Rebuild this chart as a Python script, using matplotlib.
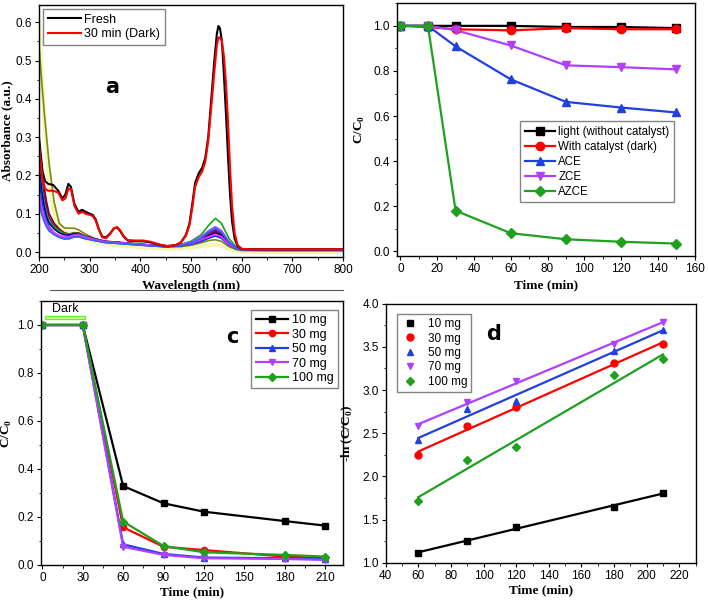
import matplotlib
matplotlib.use("Agg")
import matplotlib.pyplot as plt
import numpy as np
from matplotlib.ticker import MultipleLocator, FormatStrFormatter
from matplotlib.patches import Rectangle
from matplotlib.lines import Line2D

plt.rcParams.update({"font.family": "Liberation Sans", "font.size": 8.5,
                     "mathtext.fontset": "custom",
                     "mathtext.rm": "Liberation Serif:bold",
                     "mathtext.bf": "Liberation Serif:bold",
                     "axes.linewidth": 1.0,
                     "xtick.direction": "out", "ytick.direction": "out",
                     "xtick.major.size": 3, "ytick.major.size": 3,
                     "xtick.minor.size": 1.8, "ytick.minor.size": 1.8,
                     "xtick.minor.visible": True, "ytick.minor.visible": True})
LAB = dict(family="Liberation Serif", weight="bold", size=9.5)

# ---- panel a: UV-vis spectra ----
wl_big = [200, 203, 207, 212, 218, 228, 238, 246, 252, 258, 263, 270, 278, 285, 292, 300,
          306, 312, 318, 325, 332, 340, 348, 354, 360, 367, 375, 390, 405, 420, 440, 455,
          470, 480, 490, 497, 503, 508, 515, 522, 528, 534, 540, 546, 551, 554, 557, 561,
          565, 569, 573, 577, 581, 586, 592, 600, 620, 700, 800]
fresh = [0.30, 0.26, 0.21, 0.185, 0.178, 0.175, 0.16, 0.14, 0.15, 0.178, 0.17, 0.125, 0.105,
         0.11, 0.105, 0.10, 0.097, 0.085, 0.06, 0.04, 0.038, 0.048, 0.062, 0.064, 0.055,
         0.04, 0.03, 0.028, 0.028, 0.025, 0.018, 0.015, 0.018, 0.025, 0.045, 0.075, 0.13,
         0.18, 0.205, 0.22, 0.245, 0.30, 0.40, 0.50, 0.57, 0.59, 0.585, 0.55, 0.46, 0.36,
         0.25, 0.15, 0.08, 0.035, 0.015, 0.008, 0.007, 0.007, 0.007]
dark30 = [0.28, 0.24, 0.19, 0.165, 0.16, 0.16, 0.155, 0.135, 0.14, 0.165, 0.165, 0.12, 0.10,
          0.105, 0.10, 0.097, 0.094, 0.082, 0.058, 0.038, 0.036, 0.046, 0.062, 0.065, 0.057,
          0.042, 0.031, 0.03, 0.03, 0.027, 0.019, 0.015, 0.018, 0.025, 0.043, 0.07, 0.12,
          0.17, 0.195, 0.21, 0.235, 0.29, 0.38, 0.47, 0.54, 0.56, 0.56, 0.55, 0.51, 0.44,
          0.34, 0.22, 0.12, 0.05, 0.018, 0.008, 0.007, 0.007, 0.007]

wl_small = [200, 205, 210, 215, 220, 230, 240, 250, 260, 270, 278, 290, 310, 330, 360, 400,
            450, 480, 500, 520, 535, 548, 560, 575, 590, 600, 650, 700, 800]
yellow = [0.60, 0.48, 0.36, 0.26, 0.18, 0.10, 0.07, 0.055, 0.05, 0.05, 0.045, 0.035, 0.027,
          0.02, 0.017, 0.013, 0.009, 0.01, 0.012, 0.015, 0.018, 0.02, 0.016, 0.008, 0.003,
          0.002, 0.0, 0.0, 0.0]
olive = [0.54, 0.45, 0.37, 0.30, 0.23, 0.13, 0.075, 0.063, 0.062, 0.062, 0.058, 0.048, 0.035,
         0.027, 0.024, 0.019, 0.013, 0.014, 0.018, 0.024, 0.03, 0.032, 0.028, 0.014, 0.006,
         0.004, 0.003, 0.003, 0.003]
maroon = [0.29, 0.22, 0.17, 0.13, 0.10, 0.075, 0.06, 0.05, 0.047, 0.05, 0.05, 0.042, 0.035,
          0.028, 0.025, 0.02, 0.015, 0.017, 0.022, 0.032, 0.045, 0.054, 0.046, 0.022, 0.01,
          0.008, 0.006, 0.006, 0.006]
purple = [0.27, 0.20, 0.15, 0.115, 0.09, 0.068, 0.055, 0.048, 0.046, 0.05, 0.048, 0.041, 0.034,
          0.028, 0.025, 0.02, 0.015, 0.017, 0.023, 0.035, 0.05, 0.058, 0.05, 0.024, 0.01,
          0.008, 0.006, 0.006, 0.006]
green = [0.23, 0.17, 0.13, 0.10, 0.08, 0.065, 0.055, 0.048, 0.046, 0.05, 0.048, 0.04, 0.033,
         0.027, 0.024, 0.02, 0.016, 0.02, 0.028, 0.045, 0.07, 0.088, 0.075, 0.035, 0.012,
         0.008, 0.006, 0.006, 0.006]
navy = [0.22, 0.16, 0.12, 0.09, 0.075, 0.06, 0.05, 0.045, 0.044, 0.048, 0.046, 0.04, 0.033,
        0.027, 0.024, 0.02, 0.015, 0.017, 0.022, 0.03, 0.042, 0.05, 0.043, 0.02, 0.009,
        0.007, 0.006, 0.006, 0.006]
blue = [0.20, 0.14, 0.10, 0.08, 0.065, 0.05, 0.04, 0.035, 0.035, 0.04, 0.04, 0.036, 0.03,
        0.025, 0.022, 0.018, 0.014, 0.016, 0.02, 0.028, 0.036, 0.042, 0.036, 0.018, 0.008,
        0.006, 0.005, 0.005, 0.005]
violet = [0.16, 0.12, 0.095, 0.075, 0.062, 0.05, 0.043, 0.04, 0.04, 0.045, 0.045, 0.04, 0.033,
          0.027, 0.024, 0.02, 0.016, 0.019, 0.026, 0.04, 0.056, 0.066, 0.056, 0.027, 0.01,
          0.007, 0.006, 0.006, 0.006]
magenta = [0.15, 0.11, 0.085, 0.07, 0.06, 0.048, 0.042, 0.038, 0.038, 0.043, 0.042, 0.037,
           0.031, 0.026, 0.023, 0.019, 0.015, 0.017, 0.022, 0.032, 0.04, 0.046, 0.04, 0.02,
           0.009, 0.007, 0.006, 0.006, 0.006]
royal = [0.13, 0.10, 0.08, 0.065, 0.055, 0.045, 0.038, 0.034, 0.035, 0.04, 0.04, 0.035, 0.03,
         0.025, 0.022, 0.018, 0.014, 0.017, 0.023, 0.036, 0.052, 0.062, 0.052, 0.025, 0.009,
         0.007, 0.006, 0.006, 0.006]

# ---- panel b: catalyst comparison ----
t_b = [0, 15, 30, 60, 90, 120, 150]
light_noc = [1.0, 1.0, 1.0, 1.0, 0.995, 0.995, 0.99]
cat_dark = [1.0, 0.995, 0.985, 0.98, 0.99, 0.985, 0.985]
ace = [1.0, 1.0, 0.909, 0.763, 0.663, 0.638, 0.616]
zce = [1.0, 1.0, 0.981, 0.913, 0.825, 0.817, 0.807]
azce = [1.0, 1.0, 0.181, 0.081, 0.054, 0.043, 0.035]

# ---- panel c: catalyst dose ----
t_c = [0, 30, 60, 90, 120, 180, 210]
mg10 = [1.0, 1.0, 0.329, 0.257, 0.222, 0.183, 0.164]
mg30 = [1.0, 1.0, 0.157, 0.076, 0.062, 0.035, 0.028]
mg50 = [1.0, 1.0, 0.086, 0.046, 0.031, 0.028, 0.025]
mg70 = [1.0, 1.0, 0.076, 0.042, 0.028, 0.025, 0.021]
mg100 = [1.0, 1.0, 0.181, 0.079, 0.053, 0.042, 0.035]

# ---- panel d: kinetics -ln(C/C0) ----
t_d = [60, 90, 120, 180, 210]
k10 = [1.116, 1.25, 1.417, 1.645, 1.81]
k30 = [2.25, 2.58, 2.80, 3.317, 3.53]
k50 = [2.42, 2.78, 2.87, 3.45, 3.70]
k70 = [2.58, 2.86, 3.10, 3.53, 3.79]
k100 = [1.71, 2.19, 2.34, 3.17, 3.355]

BLK, RED, BLU, VIO, GRN = "#000000", "#ff0000", "#2040e0", "#b040ff", "#1fa01f"

fig = plt.figure(figsize=(7.08, 6.02), dpi=100)
axa = fig.add_axes([0.0551, 0.5731, 0.4294, 0.4186])
axb = fig.add_axes([0.5603, 0.5748, 0.4209, 0.4197])
axc = fig.add_axes([0.0575, 0.0615, 0.4265, 0.4385])
axd = fig.add_axes([0.5448, 0.0653, 0.4378, 0.4302])

for ax in (axa, axb, axc, axd):
    ax.tick_params(which="both", top=False, right=False, labelsize=8.5, pad=2)

# a
axa.plot(wl_small, yellow, color="#f4f4a0", lw=3.0, alpha=0.8)
for ys, c in [(olive, "#7a8a10"), (maroon, "#800000"), (purple, "#800080"), (green, "#11aa11"),
              (navy, "#000090"), (blue, "#0030ff"), (violet, "#9a50ff"), (magenta, "#ff30ff"),
              (royal, "#3060ff")]:
    axa.plot(wl_small, ys, color=c, lw=1.2)
axa.plot(wl_big, fresh, color=BLK, lw=1.5, label="Fresh")
axa.plot(wl_big, dark30, color=RED, lw=1.5, label="30 min (Dark)")
axa.set_xlim(200, 800); axa.set_ylim(-0.013, 0.645)
axa.xaxis.set_major_locator(MultipleLocator(100)); axa.xaxis.set_minor_locator(MultipleLocator(50))
axa.yaxis.set_major_locator(MultipleLocator(0.1)); axa.yaxis.set_minor_locator(MultipleLocator(0.05))
axa.yaxis.set_major_formatter(FormatStrFormatter("%.1f"))
axa.set_xlabel("Wavelength (nm)", **LAB, labelpad=3)
axa.set_ylabel("Absorbance (a.u.)", **LAB)
axa.yaxis.set_label_coords(-0.085, 0.5)
axa.legend(loc="upper left", bbox_to_anchor=(0.005, 0.995), fontsize=9, handlelength=2.6,
           fancybox=False, edgecolor="#666666", borderpad=0.4, labelspacing=0.2,
           handletextpad=0.3, borderaxespad=0.2)
axa.text(345, 0.43, "a", fontsize=15, fontweight="bold", family="DejaVu Sans",
         ha="center", va="center")

# b
for ys, c, m, lab in [(light_noc, BLK, "s", "light (without catalyst)"),
                      (cat_dark, RED, "o", "With catalyst (dark)"),
                      (ace, BLU, "^", "ACE"), (zce, VIO, "v", "ZCE"),
                      (azce, GRN, "D", "AZCE")]:
    axb.plot(t_b, ys, color=c, marker=m, ms=6 if m != "D" else 5, lw=1.6, label=lab)
axb.set_xlim(-2, 160); axb.set_ylim(-0.02, 1.1)
axb.xaxis.set_major_locator(MultipleLocator(20)); axb.xaxis.set_minor_locator(MultipleLocator(10))
axb.yaxis.set_major_locator(MultipleLocator(0.2)); axb.yaxis.set_minor_locator(MultipleLocator(0.1))
axb.yaxis.set_major_formatter(FormatStrFormatter("%.1f"))
axb.set_xlabel("Time (min)", **LAB, labelpad=3)
axb.set_ylabel(r"C/C$_\mathbf{0}$", **LAB)
axb.yaxis.set_label_coords(-0.1, 0.5)
axb.legend(loc="lower right", bbox_to_anchor=(0.95, 0.19), fontsize=8.3, handlelength=2.6,
           fancybox=False, edgecolor="#666666", borderpad=0.4, labelspacing=0.25,
           handletextpad=0.3)

# c
for ys, c, m, lab in [(mg10, BLK, "s", "10 mg"), (mg30, RED, "o", "30 mg"),
                      (mg50, BLU, "^", "50 mg"), (mg70, VIO, "v", "70 mg"),
                      (mg100, GRN, "D", "100 mg")]:
    axc.plot(t_c, ys, color=c, marker=m, ms=4.5 if m != "D" else 4, lw=1.6, label=lab)
axc.set_xlim(-1.2, 223); axc.set_ylim(0, 1.1)
axc.set_xticks([0, 30, 60, 90, 120, 150, 180, 210])
axc.xaxis.set_minor_locator(MultipleLocator(15))
axc.yaxis.set_major_locator(MultipleLocator(0.2)); axc.yaxis.set_minor_locator(MultipleLocator(0.1))
axc.yaxis.set_major_formatter(FormatStrFormatter("%.1f"))
axc.set_xlabel("Time (min)", **LAB, labelpad=2)
axc.set_ylabel(r"C/C$_\mathbf{0}$", **LAB)
axc.yaxis.set_label_coords(-0.088, 0.5)
axc.legend(loc="upper right", bbox_to_anchor=(0.985, 0.967), fontsize=9, handlelength=2.6,
           fancybox=False, edgecolor="#666666", borderpad=0.35, labelspacing=0.2,
           handletextpad=0.3, borderaxespad=0.0)
axc.add_patch(Rectangle((2, 1.025), 30, 0.012, fc="#eafaa0", ec="#66ee33", lw=1.0))
axc.text(17, 1.067, "Dark", fontsize=9, ha="center", va="center")
axc.text(141, 0.95, "c", fontsize=15, fontweight="bold", family="DejaVu Sans",
         ha="center", va="center")

# d
for ys, c, m, lab in [(k10, BLK, "s", "10 mg"), (k30, RED, "o", "30 mg"),
                      (k50, BLU, "^", "50 mg"), (k70, VIO, "v", "70 mg"),
                      (k100, GRN, "D", "100 mg")]:
    axd.plot(t_d, ys, ls="none", color=c, marker=m, ms=5 if m != "D" else 4.5, label=lab)
    p = np.polyfit(t_d, ys, 1)
    xx = np.array([t_d[0], t_d[-1]])
    axd.plot(xx, np.polyval(p, xx), color=c, lw=1.6)
axd.set_xlim(40, 230); axd.set_ylim(1.0, 4.0)
axd.xaxis.set_major_locator(MultipleLocator(20)); axd.xaxis.set_minor_locator(MultipleLocator(10))
axd.yaxis.set_major_locator(MultipleLocator(0.5)); axd.yaxis.set_minor_locator(MultipleLocator(0.25))
axd.yaxis.set_major_formatter(FormatStrFormatter("%.1f"))
axd.set_xlabel("Time (min)", **LAB, labelpad=2)
axd.set_ylabel(r"-ln (C/C$_\mathbf{0}$)", **LAB)
axd.yaxis.set_label_coords(-0.099, 0.5)
axd.legend(loc="upper left", bbox_to_anchor=(0.035, 0.96), fontsize=8.5, handlelength=1.5,
           fancybox=False, edgecolor="#666666", borderpad=0.35, labelspacing=0.2,
           handletextpad=0.8, borderaxespad=0.0)
axd.text(106, 3.65, "d", fontsize=15, fontweight="bold", family="DejaVu Sans",
         ha="center", va="center")

fig.add_artist(Line2D([50 / 708, 343 / 708], [1 - 290 / 602] * 2, color="#555555", lw=0.8))

fig.savefig("out.png", dpi=100)
